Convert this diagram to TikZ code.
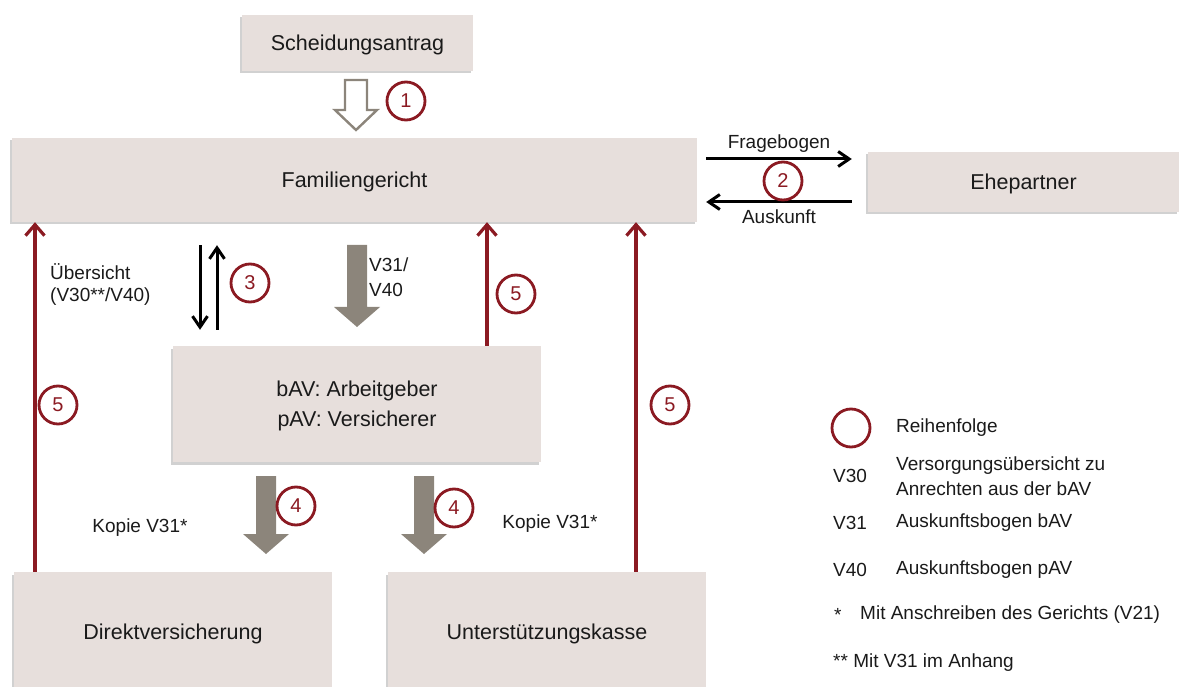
\documentclass[tikz,border=0pt]{standalone}
\usepackage{fontspec}
\setmainfont{Liberation Sans}
\usetikzlibrary{calc,arrows.meta,shadows}
\definecolor{boxfill}{HTML}{E7DFDC}
\definecolor{weinrot}{HTML}{8B1A22}
\definecolor{pfeilgrau}{HTML}{8C857B}
\definecolor{schrift}{HTML}{1A1A1A}
\tikzset{
  box/.style={fill=boxfill, inner sep=0pt, text=schrift, font=\fontsize{21.5}{26}\selectfont,
    text depth=0pt,
    drop shadow={shadow xshift=-2.5pt, shadow yshift=-2.5pt, fill=black!45, opacity=.4}},
  num/.style={circle, draw=weinrot, line width=2.8pt, minimum size=38pt, inner sep=0pt,
    text=weinrot, font=\fontsize{20}{24}\selectfont},
  rot/.style={draw=weinrot, line width=3.2pt, -{Straight Barb[length=11pt,width=19pt]}},
  blk/.style={draw=black, line width=3pt, -{Straight Barb[length=11pt,width=15pt]}},
  grau/.style={fill=pfeilgrau},
  lab/.style={text=schrift, inner sep=0pt, font=\fontsize{19}{25}\selectfont},
}
% gray block arrow: x, top, tip
\newcommand{\blockpfeil}[3]{%
  \fill[grau] (#1-10,#2) -- (#1+10,#2) -- (#1+10,#3-20) -- (#1+23,#3-20) -- (#1,#3)
    -- (#1-23,#3-20) -- (#1-10,#3-20) -- cycle;}
\begin{document}
\begin{tikzpicture}[x=1pt,y=-1pt]
  \useasboundingbox (0,0) rectangle (1179,687);

  % boxes
  \node[box, minimum width=231pt, minimum height=56pt] (antrag) at (357.5,43) {Scheidungsantrag};
  \node[box, minimum width=685pt, minimum height=84pt] (fam) at (354.5,180) {Familiengericht};
  \node[box, minimum width=311pt, minimum height=60pt] (ehe) at (1023.5,182) {Ehepartner};
  \node[box, minimum width=368pt, minimum height=116pt, align=center] (bav) at (357,404)
    {bAV: Arbeitgeber\\[4pt]pAV: Versicherer};
  \node[box, minimum width=318pt, minimum height=120pt] (direkt) at (173,632) {Direktversicherung};
  \node[box, minimum width=318pt, minimum height=120pt] (ukasse) at (547,632) {Unterstützungskasse};

  % step 1
  \draw[draw=pfeilgrau, line width=2.4pt, line join=miter]
    (345,80) -- (367,80) -- (367,110) -- (377,110) -- (356,130) -- (335,110) -- (345,110) -- cycle;
  \node[num] (n1) at (406,101) {1};

  % step 2
  \draw[blk] ($(fam.east |- 0,159)+(9,0)$) -- node[lab, above=5pt] (frage) {Fragebogen}
    ($(ehe.west |- 0,159)+(-16,0)$);
  \draw[blk] ($(ehe.west |- 0,202)+(-16,0)$) -- node[lab, below=6pt] (ausk) {Auskunft}
    ($(fam.east |- 0,202)+(9,0)$);
  \node[num] (n2) at (783,181) {2};

  % step 3
  \draw[blk] ($(fam.south -| 200,0)+(0,23)$) -- ($(bav.north -| 200,0)+(0,-16)$);
  \draw[blk] ($(bav.north -| 217,0)+(0,-16)$) -- ($(fam.south -| 217,0)+(0,23)$);
  \node[num] (n3) at (250,283) {3};
  \node[lab, anchor=west] (uebers) at (50,272) {Übersicht};
  \node[lab, anchor=west] (uebers2) at (50,297) {(V30**/V40)};

  \blockpfeil{357}{245}{327}
  \node[lab, anchor=west] (v31) at (369,265) {V31/};
  \node[lab, anchor=west] (v40) at (369,290) {V40};

  % step 4
  \blockpfeil{266}{476}{554}
  \blockpfeil{424}{476}{554}
  \node[num] (n4a) at (296,506) {4};
  \node[num] (n4b) at (454,508) {4};
  \node[lab] (kopie1) at (140,528) {Kopie V31*};
  \node[lab] (kopie2) at (550,524) {Kopie V31*};

  % step 5
  \draw[rot] (direkt.north -| 35,0) -- (fam.south -| 35,0);
  \draw[rot] (bav.north -| 487,0) -- (fam.south -| 487,0);
  \draw[rot] (ukasse.north -| 636,0) -- (fam.south -| 636,0);
  \node[num] (n5a) at (58,405) {5};
  \node[num] (n5b) at (516,294) {5};
  \node[num] (n5c) at (670,405) {5};

  % legend
  \node[num] (leg) at (851,428) {};
  \node[lab, anchor=west] (reihe) at (896,428) {Reihenfolge};
  \node[lab, anchor=west] (l30) at (833,476) {V30};
  \node[lab, anchor=west, align=left] (t30) at (896,476) {Versorgungsübersicht zu\\Anrechten aus der bAV};
  \node[lab, anchor=west] (l31) at (833,523) {V31};
  \node[lab, anchor=west] (t31) at (896,523) {Auskunftsbogen bAV};
  \node[lab, anchor=west] (l40) at (833,570) {V40};
  \node[lab, anchor=west] (t40) at (896,570) {Auskunftsbogen pAV};
  \node[lab, anchor=west] (stern) at (834,615) {*};
  \node[lab, anchor=west] (t21) at (860,615) {Mit Anschreiben des Gerichts (V21)};
  \node[lab, anchor=west] (stern2) at (833,663) {** Mit V31 im Anhang};
\end{tikzpicture}
\end{document}
